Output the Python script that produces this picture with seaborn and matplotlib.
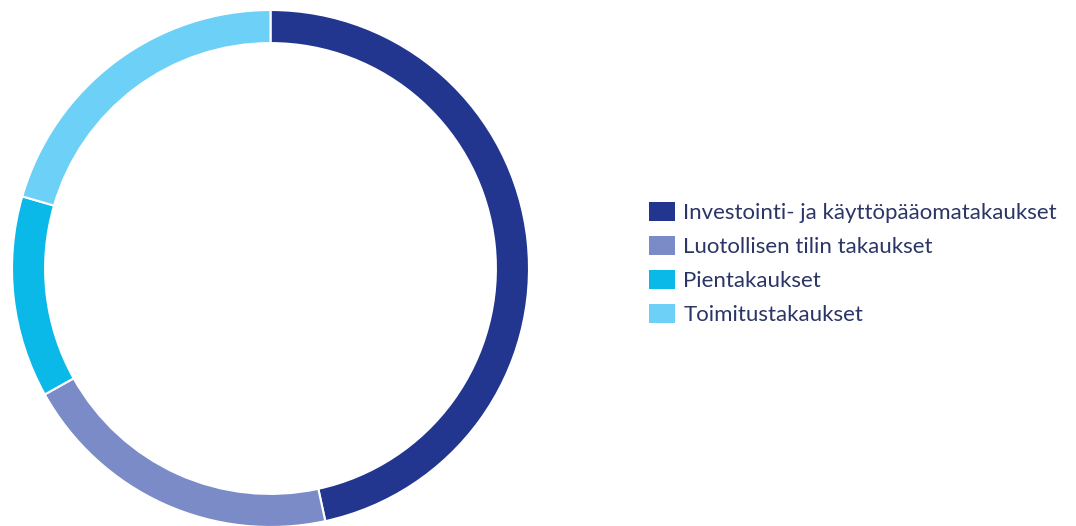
import matplotlib
matplotlib.use("Agg")
import matplotlib.pyplot as plt
import seaborn as sns

categories = ["Investointi- ja käyttöpääomatakaukset",
              "Luotollisen tilin takaukset",
              "Pientakaukset",
              "Toimitustakaukset"]
values = [46.6, 20.3, 12.6, 20.5]
colors = ["#22368f", "#7b8bc7", "#0bb9e9", "#6dd0f7"]

sns.set_theme(style="white")
plt.rcParams['font.family'] = ['Lato', 'DejaVu Sans']

W, H = 1076, 526
fig = plt.figure(figsize=(W / 100, H / 100), dpi=100)
fig.patch.set_facecolor("white")

cx, cy, r = 270.5, 268.5, 258.5
ax = fig.add_axes([(cx - r) / W, (H - cy - r) / H, 2 * r / W, 2 * r / H])
wedges, _ = ax.pie(values, colors=colors, startangle=90, counterclock=False,
                   radius=1.0,
                   wedgeprops=dict(width=0.128, edgecolor="white", linewidth=1.5))
ax.set_xlim(-1, 1)
ax.set_ylim(-1, 1)
ax.set_aspect("equal")
ax.axis("off")

fs = 16
leg = fig.legend(wedges, categories, loc="upper left",
                 bbox_to_anchor=(640 / W, 1 - 193 / H),
                 frameon=False, fontsize=fs, labelcolor="#2b3566",
                 handlelength=1.17, handleheight=0.94, handletextpad=0.38,
                 labelspacing=0.58, borderaxespad=0)
for h in leg.legend_handles:
    h.set_linewidth(0)

fig.savefig("out.png", dpi=100, facecolor="white")
